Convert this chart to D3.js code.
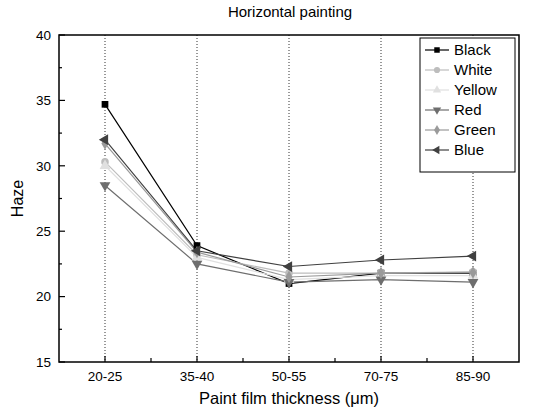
<!DOCTYPE html>
<html><head><meta charset="utf-8">
<script src="https://cdn.jsdelivr.net/npm/d3@7"></script>
<style>body{margin:0;background:#fff}svg{display:block;font-family:"Liberation Sans",Arial,sans-serif}</style>
</head><body><svg id="c" width="533" height="411"></svg>
<script>
const categories = ["20-25","35-40","50-55","70-75","85-90"];
const black  = [34.7, 23.9, 21.0, 21.8, 21.8];
const white  = [30.3, 23.2, 21.8, 21.8, 21.9];
const yellow = [30.0, 23.0, 21.3, 21.6, 21.6];
const red    = [28.5, 22.5, 21.1, 21.3, 21.1];
const green  = [31.7, 23.4, 21.5, 21.8, 21.85];
const blue   = [32.0, 23.5, 22.3, 22.8, 23.1];
const seriesNames = ["Black","White","Yellow","Red","Green","Blue"];
const yTicks = [15,20,25,30,35,40];

const series = [
  {name:"Black", values:black, color:"#000", sym:d3.symbolSquare, rot:0},
  {name:"White", values:white, color:"#bdbdbd", sym:d3.symbolCircle, rot:0},
  {name:"Yellow", values:yellow, color:"#e0e0e0", sym:d3.symbolTriangle, rot:0},
  {name:"Red", values:red, color:"#6e6e6e", sym:d3.symbolTriangle, rot:180},
  {name:"Green", values:green, color:"#9a9a9a", sym:d3.symbolDiamond, rot:0},
  {name:"Blue", values:blue, color:"#404040", sym:d3.symbolTriangle, rot:-90}
];

const svg = d3.select("#c");
const L=59, R=519, T=35, B=362;
const x = d3.scalePoint().domain(categories).range([L,R]).padding(0.5);
const y = d3.scaleLinear().domain([15,40]).range([B,T]);

// grid
svg.append("g").selectAll("line").data(categories).join("line")
  .attr("x1",d=>x(d)).attr("x2",d=>x(d)).attr("y1",T).attr("y2",B)
  .attr("stroke","#333").attr("stroke-width",1).attr("stroke-dasharray","1,2");

// frame
svg.append("rect").attr("x",L).attr("y",T).attr("width",R-L).attr("height",B-T)
  .attr("fill","none").attr("stroke","#000").attr("stroke-width",1.5);

// y ticks
const yAxis = svg.append("g");
yTicks.forEach(t=>{
  yAxis.append("line").attr("x1",L).attr("x2",L+6).attr("y1",y(t)).attr("y2",y(t)).attr("stroke","#000").attr("stroke-width",1.2);
  yAxis.append("text").attr("x",L-8).attr("y",y(t)).attr("dy","0.35em").attr("text-anchor","end").attr("font-size",13.5).text(t);
});
for(let t=17.5;t<40;t+=5){
  yAxis.append("line").attr("x1",L).attr("x2",L+3).attr("y1",y(t)).attr("y2",y(t)).attr("stroke","#000").attr("stroke-width",1.2);
}
// x ticks
const step = x.step();
categories.forEach(c=>{
  svg.append("line").attr("x1",x(c)).attr("x2",x(c)).attr("y1",B).attr("y2",B-6).attr("stroke","#000").attr("stroke-width",1.2);
  svg.append("text").attr("x",x(c)).attr("y",B+19).attr("text-anchor","middle").attr("font-size",13.5).text(c);
});
categories.slice(0,-1).forEach(c=>{
  const xm = x(c)+step/2;
  svg.append("line").attr("x1",xm).attr("x2",xm).attr("y1",B).attr("y2",B-4).attr("stroke","#000").attr("stroke-width",1.2);
});

// lines
const line = d3.line().x((d,i)=>x(categories[i])).y(d=>y(d));
series.forEach(s=>{
  svg.append("path").datum(s.values).attr("d",line).attr("fill","none").attr("stroke",s.color).attr("stroke-width",1.2);
});
series.forEach(s=>{
  const g = svg.append("g");
  s.values.forEach((v,i)=>{
    g.append("path").attr("d",d3.symbol().type(s.sym).size(s.sym===d3.symbolTriangle?50:45)())
      .attr("transform",`translate(${x(categories[i])},${y(v)}) rotate(${s.rot})`)
      .attr("fill",s.color);
  });
});

// legend
const lg = svg.append("g");
lg.append("rect").attr("x",420).attr("y",38).attr("width",95).attr("height",134).attr("fill","#fff").attr("stroke","#000").attr("stroke-width",1);
series.forEach((s,i)=>{
  const yy = 50+i*20;
  lg.append("line").attr("x1",425).attr("x2",449).attr("y1",yy).attr("y2",yy).attr("stroke",s.color).attr("stroke-width",1.2);
  lg.append("path").attr("d",d3.symbol().type(s.sym).size(30)()).attr("transform",`translate(437,${yy}) rotate(${s.rot})`).attr("fill",s.color);
  lg.append("text").attr("x",454).attr("y",yy).attr("dy","0.35em").attr("font-size",15).text(seriesNames[i]);
});

// titles
svg.append("text").attr("x",290).attr("y",17).attr("text-anchor","middle").attr("font-size",15).text("Horizontal painting");
svg.append("text").attr("x",289).attr("y",404).attr("text-anchor","middle").attr("font-size",16.5).text("Paint film thickness (μm)");
svg.append("text").attr("transform",`translate(23,${(T+B)/2}) rotate(-90)`).attr("text-anchor","middle").attr("font-size",16).text("Haze");
</script></body></html>
